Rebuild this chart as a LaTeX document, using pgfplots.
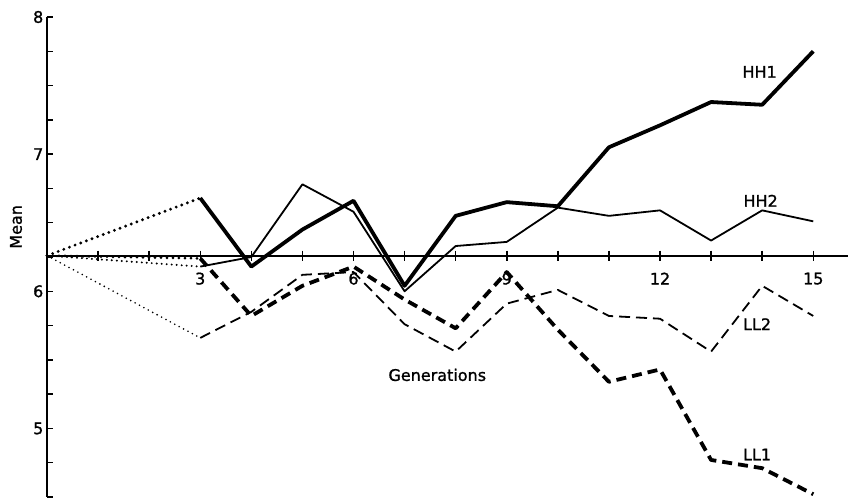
\documentclass[border=0pt]{standalone}
\usepackage{pgfplots}
\pgfplotsset{compat=1.18}
\usepackage{fontspec}
\setmainfont{DejaVu Sans}[FakeBold=1.2]
\begin{document}
\begin{tikzpicture}[font=\fontsize{16}{19}\selectfont]
\begin{axis}[name=ax, scale only axis, width=801pt, height=480pt,
  xmin=0, xmax=15.68, ymin=4.5, ymax=8,
  axis x line=none, axis y line=left,
  y axis line style={-, line width=2pt},
  xtick=\empty,
  ytick={5,6,7,8}, minor ytick={4.5,4.75,...,8},
  tick align=inside, major tick length=6pt, minor tick length=6pt,
  every tick/.style={line width=1.5pt, black},
  yticklabel style={font=\fontsize{16}{19}\selectfont, inner sep=3.5pt},
  /pgf/number format/assume math mode=true,
  clip=false]
% baseline (base population mean) with generation ticks
\addplot[line width=2pt] coordinates {(0,6.26) (15.68,6.26)};
\addplot[only marks, mark=|, mark size=5pt, mark options={line width=1.5pt}]
  coordinates {(1,6.26)(2,6.26)(3,6.26)(4,6.26)(5,6.26)(6,6.26)(7,6.26)(8,6.26)(9,6.26)(10,6.26)(11,6.26)(12,6.26)(13,6.26)(14,6.26)(15,6.26)};
% dotted parts (generation 0 to 3)
\addplot[line width=3.2pt, line cap=round, dash pattern=on 0pt off 6pt] coordinates {(0,6.26)(3,6.68)};
\addplot[line width=2.2pt, line cap=round, dash pattern=on 0pt off 5pt] coordinates {(0,6.26)(3,6.18)};
\addplot[line width=3pt, line cap=round, dash pattern=on 0pt off 6pt] coordinates {(0,6.26)(3,6.24)};
\addplot[line width=1.8pt, line cap=round, dash pattern=on 0pt off 5pt] coordinates {(0,6.26)(3,5.66)};
% HH1
\addplot[line width=3.8pt, line join=round] coordinates {
 (3,6.68)(4,6.18)(5,6.45)(6,6.66)(7,6.04)(8,6.55)(9,6.65)(10,6.62)(11,7.05)(12,7.21)(13,7.38)(14,7.36)(15,7.75)};
% HH2
\addplot[line width=1.8pt, line join=round] coordinates {
 (3,6.18)(4,6.25)(5,6.78)(6,6.58)(7,6.00)(8,6.33)(9,6.36)(10,6.61)(11,6.55)(12,6.59)(13,6.37)(14,6.59)(15,6.51)};
% LL1
\addplot[line width=3.8pt, line join=round, dash pattern=on 10pt off 6pt] coordinates {
 (3,6.24)(4,5.82)(5,6.04)(6,6.18)(7,5.94)(8,5.73)(9,6.14)(10,5.72)(11,5.34)(12,5.43)(13,4.77)(14,4.71)(15,4.52)};
% LL2
\addplot[line width=1.8pt, line join=round, dash pattern=on 11pt off 6pt] coordinates {
 (3,5.66)(4,5.85)(5,6.12)(6,6.14)(7,5.76)(8,5.56)(9,5.91)(10,6.01)(11,5.82)(12,5.80)(13,5.56)(14,6.04)(15,5.82)};
% x tick labels
\node at (axis cs:3,6.26) [yshift=-23pt] {3};
\node at (axis cs:6,6.26) [yshift=-23pt] {6};
\node at (axis cs:9,6.26) [yshift=-23pt] {9};
\node at (axis cs:12,6.26) [yshift=-23pt] {12};
\node at (axis cs:15,6.26) [yshift=-23pt] {15};
% labels
\node at (axis cs:7.64,5.39) {Generations};
\node[rotate=90] at ([xshift=-31pt]axis cs:0,6.47) {Mean};
\node at (axis cs:13.95,7.60) {HH1};
\node at (axis cs:13.97,6.66) {HH2};
\node at (axis cs:13.9,5.76) {LL2};
\node at (axis cs:13.9,4.81) {LL1};
\end{axis}
\pgfresetboundingbox
\path (ax.south west) ++(-47pt,-5pt) rectangle ++(849pt,502pt);
\end{tikzpicture}
\end{document}
